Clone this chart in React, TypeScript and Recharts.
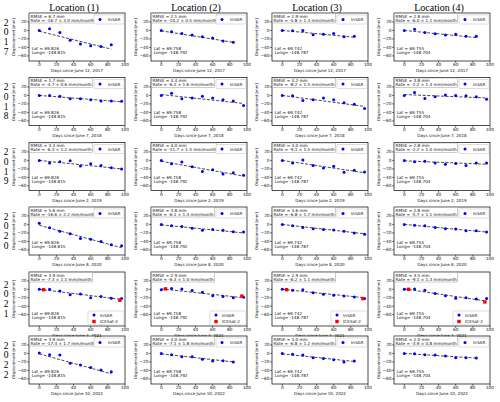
import React from "react";
import { ComposedChart, Scatter, Line, XAxis, YAxis } from "recharts";

const years = ["2017", "2018", "2019", "2020", "2021", "2022"];
const startDates = [
  "June 12, 2017",
  "June 7, 2018",
  "June 2, 2019",
  "June 8, 2020",
  "June 3, 2021",
  "June 10, 2022",
];
const locationNames = ["Location (1)", "Location (2)", "Location (3)", "Location (4)"];
const lats = ["69.826", "69.758", "69.742", "69.755"];
const longs = ["-148.815", "-148.792", "-148.787", "-148.704"];

const days8 = [0, 12, 24, 36, 48, 60, 72, 84];
const days9 = [0, 12, 24, 36, 48, 60, 72, 84, 96];
const insarDays = [days8, days9, days9, days9, days9, days8];

// InSAR displacement [mm], one list per location
const insar2017 = [
  [0, 4, -5, -23, -32, -36, -38, -34],
  [0, -3, -7, -11, -15, -18, -25, -28],
  [0, -1, 0, -10, -9, -7, -15, -14],
  [0, 3, -5, -8, -11, -9, -14, -14],
];
const insar2018 = [
  [0, 0, -2, -8, -8, -10, -13, -13, -14],
  [0, 5, -8, -6, -2, -6, -10, -13, -24],
  [0, -1, -12, -10, -6, -10, -17, -21, -31],
  [0, 7, -7, -3, 1, 0, -1, -3, -9],
];
const insar2019 = [
  [0, -6, -3, -1, -13, -8, -12, -17, -20],
  [0, -8, -4, -15, -26, -22, -32, -29, -35],
  [0, -6, 1, -12, -18, -14, -28, -23, -27],
  [0, -3, -2, -6, -9, -7, -12, -6, -6],
];
const insar2020 = [
  [3, -8, -16, -22, -33, -35, -40, -48, -50],
  [0, -3, -5, -9, -14, -12, -14, -17, -18],
  [0, -3, -7, -10, -12, -13, -16, -20, -23],
  [0, -2, -3, -7, -10, -11, -15, -15, -18],
];
const insar2021 = [
  [0, 0, -4, -13, -11, -20, -17, -21, -22],
  [-1, 2, 1, -3, -7, -15, -17, -20, -19],
  [0, -2, -1, -8, -12, -14, -16, -18, -22],
  [0, 1, -2, -10, -15, -21, -20, -23, -22],
];
const insar2022 = [
  [1, -3, -4, -23, -27, -33, -39, -43],
  [0, -3, -8, -8, -14, -18, -17, -20],
  [0, -2, -4, -10, -12, -15, -20, -18],
  [0, -1, -3, -4, -6, -10, -10, -11],
];
const insarByYear = [insar2017, insar2018, insar2019, insar2020, insar2021, insar2022];

// ICESat-2 only in 2021
const icesatDays = [5, 94];
const icesat2021 = [
  [-1, -26],
  [1, -16],
  [-1, -22],
  [0, -30],
];

// fitted trend: value at first day, value at last day
const trend2017 = [[-2, -44], [-1, -28], [0, -16], [0, -17]];
const trend2018 = [[0, -15], [2, -19], [0, -26], [2, -6]];
const trend2019 = [[0, -20], [-2, -37], [0, -29], [-1, -9]];
const trend2020 = [[-2, -55], [-1, -20], [0, -22], [0, -18]];
const trend2021 = [[0, -24], [1, -20], [0, -20], [1, -28]];
const trend2022 = [[-1, -48], [-1, -20], [-1, -19], [0, -11]];
const trendByYear = [trend2017, trend2018, trend2019, trend2020, trend2021, trend2022];

const rmseByYear = [
  ["6.7", "2.1", "2.9", "2.8"],
  ["1.7", "4.4", "4.2", "3.8"],
  ["3.3", "4.0", "4.0", "2.8"],
  ["5.6", "3.8", "4.6", "2.8"],
  ["3.9", "2.9", "2.9", "3.5"],
  ["3.9", "4.0", "3.0", "2.0"],
];
const rateByYear = [
  ["-16.7 ± 3.0", "-10.2 ± 0.5", "-5.8 ± 1.3", "-6.0 ± 1.1"],
  ["-4.7 ± 0.6", "-6.1 ± 1.6", "-8.2 ± 1.5", "-2.2 ± 1.4"],
  ["-6.3 ± 1.2", "-11.7 ± 1.5", "-9.1 ± 1.5", "-2.2 ± 1.0"],
  ["-16.6 ± 2.2", "-6.1 ± 1.4", "-6.8 ± 1.7", "-5.7 ± 1.1"],
  ["-7.3 ± 1.1", "-6.3 ± 1.0", "-6.2 ± 1.1", "-9.1 ± 1.3"],
  ["-17.4 ± 1.7", "-7.1 ± 1.8", "-6.8 ± 1.2", "-3.9 ± 0.8"],
];

const xTicks = [0, 20, 40, 60, 80, 100];
const yTicks = [-60, -40, -20, 0, 20];

// layout
const colLeft = [29, 151, 272, 394];
const rowTop = [13, 77.5, 142.5, 207, 272, 336];
const rowHeight = [48, 48, 48, 48, 54, 48];
const yMin = [-72, -72, -72, -72, -87, -72];
const yMax = 41;
const PW = 96;
const AXW = 30;
const MT = 2;
const MR = 4;
const AXH = 19;
const FONT = "DejaVu Sans";
const SERIF = "Liberation Serif";

const fmt = (v: number) => (v < 0 ? `\u2212${Math.abs(v)}` : `${v}`);

function BlueDot(props: any) {
  const { cx, cy } = props;
  if (cx == null || cy == null) return null;
  return <circle cx={cx} cy={cy} r={1.5} fill="#0000ff" />;
}

function RedSquare(props: any) {
  const { cx, cy } = props;
  if (cx == null || cy == null) return null;
  return <rect x={cx - 1.7} y={cy - 1.7} width={3.4} height={3.4} fill="#ff0000" />;
}

function Panel({ r, c }: { r: number; c: number }) {
  const h = rowHeight[r];
  const days = insarDays[r];
  const vals = insarByYear[r][c];
  const pts = days.map((d, i) => ({ x: d, y: vals[i] }));
  const tr = trendByYear[r][c];
  const trend = [
    { x: days[0], y: tr[0] },
    { x: days[days.length - 1], y: tr[1] },
  ];
  const ice = years[r] === "2021" ? icesatDays.map((d, i) => ({ x: d, y: icesat2021[c][i] })) : null;

  return (
    <div style={{ position: "absolute", left: colLeft[c] - AXW, top: rowTop[r] - MT }}>
      <ComposedChart
        width={AXW + PW + MR}
        height={MT + h + AXH}
        margin={{ top: MT, right: MR, left: 0, bottom: 0 }}
      >
        <XAxis
          type="number"
          dataKey="x"
          domain={[-12, 100]}
          ticks={xTicks}
          interval={0}
          allowDataOverflow
          height={AXH}
          axisLine={false}
          tickSize={1.8}
          tickMargin={0.6}
          tick={{ fontSize: 4.3, fill: "#111", fontFamily: FONT }}
          tickLine={{ stroke: "#000", strokeWidth: 0.6 }}
          tickFormatter={fmt}
          label={{
            value: `Days since ${startDates[r]}`,
            position: "center",
            fontSize: 4.1,
            fill: "#111",
            fontFamily: FONT,
          }}
        />
        <YAxis
          type="number"
          dataKey="y"
          domain={[yMin[r], yMax]}
          ticks={yTicks}
          interval={0}
          allowDataOverflow
          width={AXW}
          axisLine={false}
          tickSize={1.8}
          tickMargin={0.6}
          tick={{ fontSize: 4.3, fill: "#111", fontFamily: FONT }}
          tickLine={{ stroke: "#000", strokeWidth: 0.6 }}
          tickFormatter={fmt}
          label={{
            value: "Displacement [mm]",
            angle: -90,
            position: "center",
            fontSize: 3.8,
            fill: "#111",
            fontFamily: FONT,
          }}
        />
        <Line
          data={trend}
          dataKey="y"
          stroke="#333"
          strokeWidth={0.9}
          strokeDasharray="3 1.6"
          dot={false}
          isAnimationActive={false}
        />
        <Scatter data={pts} dataKey="y" shape={<BlueDot />} isAnimationActive={false} />
        {ice && <Scatter data={ice} dataKey="y" shape={<RedSquare />} isAnimationActive={false} />}
      </ComposedChart>
    </div>
  );
}

function PanelNotes({ r, c }: { r: number; c: number }) {
  const left = colLeft[c];
  const top = rowTop[r];
  const h = rowHeight[r];
  const right = left + PW;
  const bottom = top + h;
  const line1 = `RMSE = ${rmseByYear[r][c]} mm`;
  const line2 = `Rate = ${rateByYear[r][c]} mm/month`;
  const boxW = Math.max(line1.length, line2.length) * 2.3 + 3;
  const two = years[r] === "2021";
  const txt = { fontSize: 4.2, fontFamily: FONT, fill: "#111" };
  return (
    <g>
      <rect x={left} y={top} width={PW} height={h} fill="none" stroke="#000" strokeWidth={0.7} />
      <rect x={left + 0.5} y={top + 0.5} width={boxW} height={9.5} fill="#fff" stroke="#999" strokeWidth={0.5} />
      <text x={left + 1.5} y={top + 4.6} {...txt}>{line1}</text>
      <text x={left + 1.5} y={top + 8.8} {...txt}>{line2}</text>
      <text x={left + 2.7} y={bottom - 11.5} {...txt}>{`Lat = ${lats[c]}`}</text>
      <text x={left + 2.7} y={bottom - 7.2} {...txt}>{`Long= ${longs[c]}`}</text>
      {!two && (
        <g>
          <rect x={right - 31} y={top + 2} width={30} height={9} rx={1} fill="#fff" stroke="#bbb" strokeWidth={0.5} />
          <circle cx={right - 25} cy={top + 6.5} r={1.5} fill="#0000ff" />
          <text x={right - 17} y={top + 8} {...txt}>InSAR</text>
        </g>
      )}
      {two && (
        <g>
          <rect x={right - 37} y={bottom - 15} width={36} height={14} rx={1} fill="#fff" stroke="#bbb" strokeWidth={0.5} />
          <circle cx={right - 31} cy={bottom - 11} r={1.5} fill="#0000ff" />
          <text x={right - 25} y={bottom - 9.5} {...txt}>InSAR</text>
          <rect x={right - 32.7} y={bottom - 6.2} width={3.4} height={3.4} fill="#ff0000" />
          <text x={right - 25} y={bottom - 3} {...txt}>ICESat-2</text>
        </g>
      )}
    </g>
  );
}

export default function App() {
  return (
    <div style={{ position: "absolute", left: 0, top: 0, width: 500, height: 402, background: "#fff", overflow: "hidden" }}>
      {years.map((_, r) => locationNames.map((__, c) => <Panel key={`${r}-${c}`} r={r} c={c} />))}
      <svg width={500} height={402} style={{ position: "absolute", left: 0, top: 0, zIndex: 1, pointerEvents: "none" }}>
        {locationNames.map((name, c) => (
          <text
            key={name}
            x={colLeft[c] + PW / 2 - 3}
            y={10.5}
            textAnchor="middle"
            fontSize={10}
            fontFamily={SERIF}
            fill="#000"
          >
            {name}
          </text>
        ))}
        {years.map((yr, r) => {
          const mid = rowTop[r] + rowHeight[r] / 2;
          return yr.split("").map((d, i) => (
            <text
              key={`${yr}-${i}`}
              x={6}
              y={mid + (i - 1.5) * 9.6 + 3.2}
              textAnchor="middle"
              fontSize={9.5}
              fontFamily={SERIF}
              fill="#000"
            >
              {d}
            </text>
          ));
        })}
        {years.map((_, r) => locationNames.map((__, c) => <PanelNotes key={`n${r}-${c}`} r={r} c={c} />))}
      </svg>
    </div>
  );
}
